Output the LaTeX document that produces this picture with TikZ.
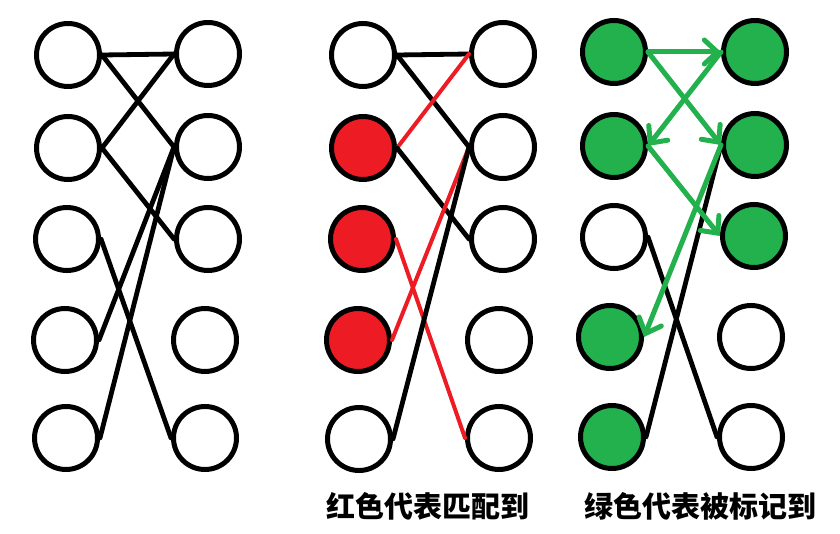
\documentclass[tikz,border=0pt]{standalone}
\usepackage{fontspec}
\newfontfamily\cjk{Noto Sans CJK SC}
\usetikzlibrary{arrows.meta}
\definecolor{paintred}{HTML}{ED1C24}
\definecolor{paintgreen}{HTML}{22B14C}

\begin{document}
\begin{tikzpicture}[x=1pt,y=-1pt,
  vert/.style={circle,draw,line width=5pt,minimum size=63pt,inner sep=0pt},
  edge/.style={line width=4.8pt,line cap=round},
  matched/.style={line width=4pt,draw=paintred},
  marked/.style={line width=5pt,draw=paintgreen,line cap=round,
    -{Straight Barb[length=13pt,width=24pt,line cap=round]}},
  caption/.style={font=\cjk\bfseries\fontsize{29}{34}\selectfont}]
\useasboundingbox (0,0) rectangle (840,534);

% first graph
\node[vert] (al1) at (68,55) {};
\node[vert] (al2) at (68,148) {};
\node[vert] (al3) at (67,239) {};
\node[vert] (al4) at (65,340) {};
\node[vert] (al5) at (66,438) {};
\node[vert] (ar1) at (208,54) {};
\node[vert] (ar2) at (208,147) {};
\node[vert] (ar3) at (208,239) {};
\node[vert] (ar4) at (205,340) {};
\node[vert] (ar5) at (205,438) {};

\draw[edge] (al1.east) -- (ar1.west);
\draw[edge] (al1.east) -- (ar2.west);
\draw[edge] (al2.east) -- (ar1.west);
\draw[edge] (al2.east) -- (ar3.west);
\draw[edge] (al3.east) -- (ar5.west);
\draw[edge] (al4.east) -- (ar2.west);
\draw[edge] (al5.east) -- (ar2.west);

% second graph, red = matched
\node[vert] (bl1) at (363,55) {};
\node[vert,fill=paintred] (bl2) at (363,148) {};
\node[vert,fill=paintred] (bl3) at (362,239) {};
\node[vert,fill=paintred] (bl4) at (358,340) {};
\node[vert] (bl5) at (359,439) {};
\node[vert] (br1) at (503,54) {};
\node[vert] (br2) at (503,147) {};
\node[vert] (br3) at (503,239) {};
\node[vert] (br4) at (499,340) {};
\node[vert] (br5) at (499,438) {};

\draw[edge] (bl1.east) -- (br1.west);
\draw[edge] (bl1.east) -- (br2.west);
\draw[edge,matched] (bl2.east) -- (br1.west);
\draw[edge] (bl2.east) -- (br3.west);
\draw[edge,matched] (bl3.east) -- (br5.west);
\draw[edge,matched] (bl4.east) -- (br2.west);
\draw[edge] (bl5.east) -- (br2.west);

% third graph, green = marked
\node[vert,fill=paintgreen] (cl1) at (614,52) {};
\node[vert,fill=paintgreen] (cl2) at (614,146) {};
\node[vert] (cl3) at (614,237) {};
\node[vert,fill=paintgreen] (cl4) at (610,337) {};
\node[vert,fill=paintgreen] (cl5) at (612,437) {};
\node[vert,fill=paintgreen] (cr1) at (755,52) {};
\node[vert,fill=paintgreen] (cr2) at (755,145) {};
\node[vert,fill=paintgreen] (cr3) at (754,236) {};
\node[vert] (cr4) at (751,337) {};
\node[vert] (cr5) at (751,437) {};

\draw[edge] (cl3.east) -- (cr5.west);
\draw[edge] (cl5.east) -- (cr2.west);
\draw[marked] (cl1.east) -- (cr1.west);
\draw[marked] (cl1.east) -- (cr2.west);
\draw[marked] (cr1.west) -- (cl2.east);
\draw[marked] (cl2.east) -- (cr3.west);
\draw[marked] (cr2.west) -- (cl4.east);

\node[caption] (capred) at (428,506) {红色代表匹配到};
\node[caption] (capgreen) at (700,506) {绿色代表被标记到};
\end{tikzpicture}
\end{document}
